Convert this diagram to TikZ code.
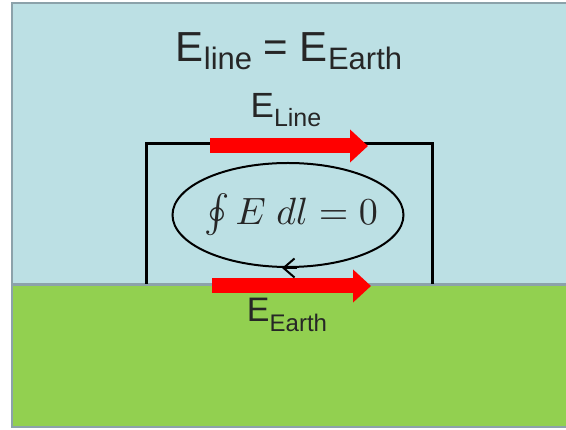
\documentclass[tikz,border=0pt]{standalone}
\usepackage{graphicx}
\usepackage{fontspec}
\setmainfont{Liberation Sans}
\usetikzlibrary{arrows.meta,shapes.geometric}
\definecolor{sky}{RGB}{188,224,228}
\definecolor{grass}{RGB}{146,208,80}
\definecolor{rim}{RGB}{140,162,170}
\definecolor{fieldred}{RGB}{255,0,0}
\newcommand{\fs}[2]{{\fontsize{#1}{#1}\selectfont #2}}
\newcommand{\sub}[3]{\raisebox{-#1pt}{\fs{#2}{#3}}}
\tikzset{
  wire/.style={black, line width=3pt, line join=miter},
  field/.style={fieldred, line width=15pt, line cap=butt, -{Triangle[length=18pt,width=32pt]}},
  label/.style={inner sep=0pt, anchor=base, text=black!85},
}
\begin{document}
\begin{tikzpicture}[x=1pt,y=-1pt]
\useasboundingbox (0,0) rectangle (566,430);
% background panels
\fill[sky] (12,3) rectangle (570,286);
\fill[grass] (12,286) rectangle (570,427);
\draw[rim, line width=3pt] (12,285) -- (570,285);
\draw[rim, line width=2.5pt] (12,3) rectangle (570,427);
% loop frame
\coordinate (bl) at (146,284);
\coordinate (tl) at (146,144);
\coordinate (tr) at (432,144);
\coordinate (br) at (432,284);
\draw[wire] (bl) -- (tl) -- (tr) -- (br);
% field arrows
\coordinate (l1) at (210,146);
\coordinate (l2) at (368,146);
\coordinate (e1) at (212,286);
\coordinate (e2) at (371,286);
\draw[field] (l1) -- (l2);
\draw[field] (e1) -- (e2);
% circulation ellipse
\node[ellipse, draw, line width=2pt, minimum width=231pt, minimum height=104pt, inner sep=0pt] (loop) at (288,215) {};
\node[inner sep=0pt, text=black!85] (eq) at (291,215) {\scalebox{3.8}{$\oint E\;dl = 0$}};
\coordinate (c1) at ([xshift=9pt]loop.south);
\coordinate (c2) at ([xshift=-6pt]loop.south);
\draw[line width=2pt, -{Straight Barb[length=11pt,width=19pt]}] (c1) -- (c2);
% labels
\node[label] (title) at (289,62) {\fs{42}{E}\sub{8}{31}{line}\fs{42}{ = E}\sub{8}{31}{Earth}};
\node[label] (lineLabel) at (286,118) {\fs{35}{E}\sub{9}{25}{Line}};
\node[label] (earthLabel) at (287,322) {\fs{34}{E}\sub{10}{24}{Earth}};
\end{tikzpicture}
\end{document}
